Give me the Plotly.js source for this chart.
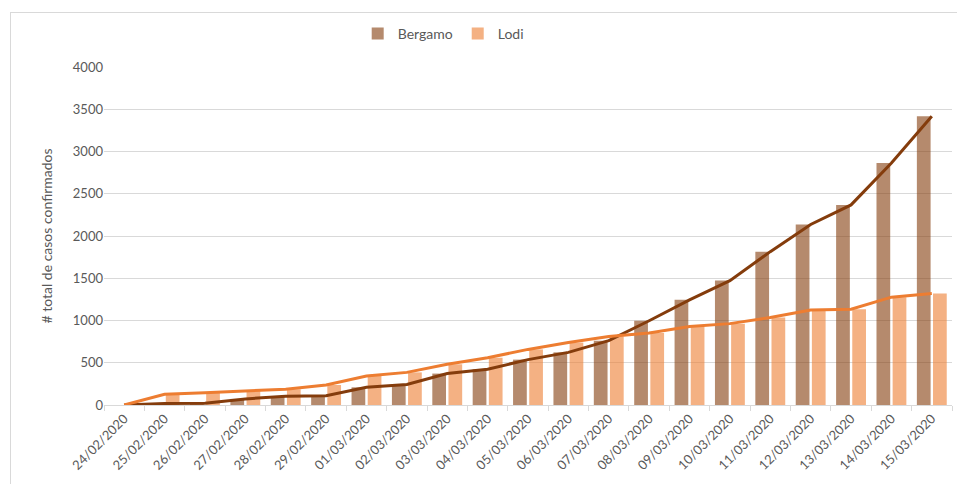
<!DOCTYPE html>
<html>
<head>
<meta charset="utf-8">
<script src="https://cdn.plot.ly/plotly-3.0.1.min.js"></script>
<style>
  html, body { margin: 0; padding: 0; background: #fff; }
  #wrap { position: relative; width: 957px; height: 484px; overflow: hidden; }
  #frame { position: absolute; left: 10px; top: 12px; width: 1000px; height: 600px;
           border-left: 1px solid #d9d9d9; border-top: 1px solid #d9d9d9; pointer-events: none; }
  #chart { position: absolute; left: 0; top: 0; width: 957px; height: 484px; }
</style>
</head>
<body>
<div id="wrap">
  <div id="chart"></div>
  <div id="frame"></div>
</div>
<script>
const dates = ["24/02/2020","25/02/2020","26/02/2020","27/02/2020","28/02/2020","29/02/2020",
  "01/03/2020","02/03/2020","03/03/2020","04/03/2020","05/03/2020","06/03/2020","07/03/2020",
  "08/03/2020","09/03/2020","10/03/2020","11/03/2020","12/03/2020","13/03/2020","14/03/2020","15/03/2020"];
const bergamo = [0, 18, 20, 72, 103, 110, 209, 243, 372, 423, 537, 623, 761, 997, 1245, 1472, 1815, 2136, 2368, 2864, 3416];
const lodi = [0, 127, 146, 166, 186, 237, 344, 386, 482, 559, 658, 739, 811, 853, 928, 963, 1035, 1123, 1133, 1276, 1320];
const yTicks = [0, 500, 1000, 1500, 2000, 2500, 3000, 3500, 4000];

const FONT = 'Lato, "Open Sans", sans-serif';
const GREY = '#595959';

const traces = [
  { type: 'bar', name: 'Bergamo', x: dates, y: bergamo,
    marker: { color: 'rgba(132,60,12,0.6)', line: { width: 0 } } },
  { type: 'bar', name: 'Lodi', x: dates, y: lodi,
    marker: { color: 'rgba(237,125,49,0.6)', line: { width: 0 } } },
  { type: 'scatter', mode: 'lines', name: 'Bergamo', x: dates, y: bergamo, showlegend: false,
    line: { color: '#843C0C', width: 3 } },
  { type: 'scatter', mode: 'lines', name: 'Lodi', x: dates, y: lodi, showlegend: false,
    line: { color: '#ED7D31', width: 3 } }
];

const layout = {
  width: 957, height: 484,
  margin: { l: 104, r: 5, t: 67, b: 79 },
  paper_bgcolor: 'rgba(0,0,0,0)', plot_bgcolor: '#fff',
  font: { family: FONT, color: GREY, size: 13 },
  barmode: 'group', bargap: 0.2, bargroupgap: 0.15,
  showlegend: true,
  legend: { orientation: 'h', x: 0.4, xanchor: 'center', y: 1.145, yanchor: 'top',
            font: { family: FONT, size: 14, color: GREY }, itemwidth: 30, tracegroupgap: 0 },
  xaxis: {
    type: 'category', categoryorder: 'array', categoryarray: dates,
    tickangle: -45, tickfont: { family: FONT, size: 13, color: GREY },
    showline: true, linecolor: '#d9d9d9', linewidth: 1,
    ticks: 'outside', tickson: 'boundaries', ticklen: 5, tickcolor: '#d9d9d9',
    showgrid: false, automargin: false, fixedrange: true
  },
  yaxis: {
    range: [0, 4000], tickvals: yTicks, ticktext: yTicks.map(String),
    tickfont: { family: FONT, size: 13, color: GREY },
    showgrid: true, gridcolor: '#d9d9d9', gridwidth: 1,
    zeroline: false, showline: false, ticks: '',
    title: { text: '# total de casos confirmados', font: { family: FONT, size: 14, color: GREY }, standoff: 16 },
    automargin: false, fixedrange: true
  }
};

Plotly.newPlot('chart', traces, layout, { displayModeBar: false, staticPlot: true });
</script>
</body>
</html>
